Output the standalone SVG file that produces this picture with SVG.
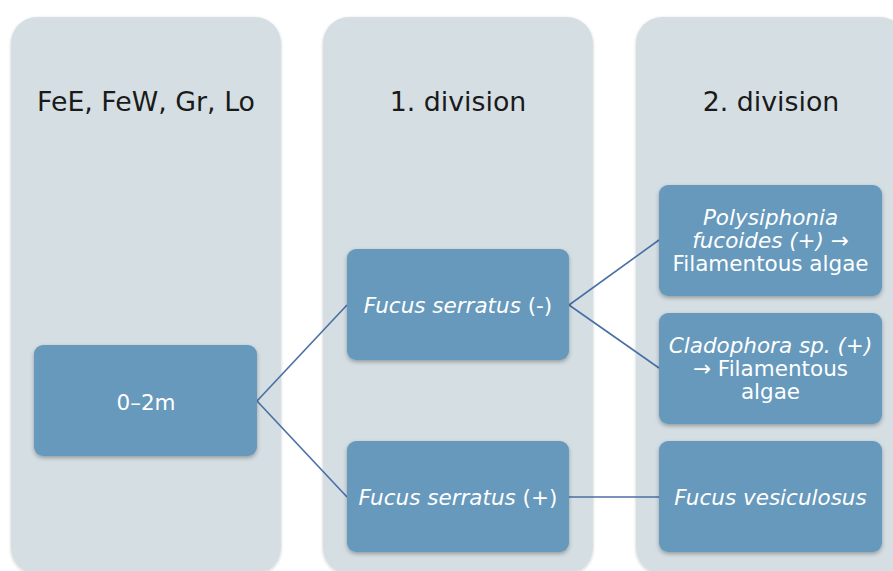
<svg xmlns="http://www.w3.org/2000/svg" width="893" height="571" viewBox="0 0 893 571">
<defs>
<style>
.col{fill:#d5dfe3;}
.node{fill:#6699bc;}
.hdr{font-family:"DejaVu Sans",Verdana,sans-serif;font-size:26.8px;fill:#1a1a1a;text-anchor:middle;}
.lbl{font-family:"DejaVu Sans",Verdana,sans-serif;font-size:21.5px;fill:#ffffff;text-anchor:middle;}
.it{font-style:italic;}
.conn{stroke:#4a6fa5;stroke-width:1.6;fill:none;}
</style>
<filter id="sh" x="-10%" y="-10%" width="120%" height="130%">
<feDropShadow dx="0" dy="2" stdDeviation="2" flood-color="#000" flood-opacity="0.3"/>
</filter>
<filter id="shc" x="-10%" y="-10%" width="120%" height="120%">
<feDropShadow dx="0" dy="1" stdDeviation="1.5" flood-color="#000" flood-opacity="0.2"/>
</filter>
</defs>
<rect width="893" height="571" fill="#ffffff"/>
<g id="col1"><rect class="col" x="11" y="17" width="270" height="557" rx="26" filter="url(#shc)"/><text class="hdr" x="146" y="111">FeE, FeW, Gr, Lo</text></g>
<g id="col2"><rect class="col" x="323" y="17" width="270" height="557" rx="26" filter="url(#shc)"/><text class="hdr" x="458" y="111">1. division</text></g>
<g id="col3"><rect class="col" x="636" y="17" width="270" height="557" rx="26" filter="url(#shc)"/><text class="hdr" x="771" y="111">2. division</text></g>
<g id="connectors">
<line class="conn" x1="257" y1="401" x2="347" y2="305"/>
<line class="conn" x1="257" y1="401" x2="347" y2="497"/>
<line class="conn" x1="569" y1="305" x2="659" y2="240"/>
<line class="conn" x1="569" y1="305" x2="659" y2="368"/>
<line class="conn" x1="569" y1="497" x2="659" y2="497"/>
</g>
<g id="n0"><rect class="node" x="34" y="345" width="223" height="111" rx="9" filter="url(#sh)"/><text class="lbl" x="146" y="409.5">0–2m</text></g>
<g id="n1"><rect class="node" x="347" y="249" width="222" height="111" rx="9" filter="url(#sh)"/><text class="lbl" x="458" y="313"><tspan class="it">Fucus serratus</tspan> (-)</text></g>
<g id="n2"><rect class="node" x="347" y="441" width="222" height="111" rx="9" filter="url(#sh)"/><text class="lbl" x="458" y="505"><tspan class="it">Fucus serratus</tspan> (+)</text></g>
<g id="n3"><rect class="node" x="659" y="185" width="223" height="111" rx="9" filter="url(#sh)"/><text class="lbl"><tspan class="it" x="770.5" y="225">Polysiphonia</tspan><tspan class="it" x="770.5" y="248">fucoides (+) →</tspan><tspan x="770.5" y="271">Filamentous algae</tspan></text></g>
<g id="n4"><rect class="node" x="659" y="313" width="223" height="111" rx="9" filter="url(#sh)"/><text class="lbl"><tspan class="it" x="770.5" y="353">Cladophora sp. (+)</tspan><tspan x="770.5" y="376">→ Filamentous</tspan><tspan x="770.5" y="399">algae</tspan></text></g>
<g id="n5"><rect class="node" x="659" y="441" width="223" height="111" rx="9" filter="url(#sh)"/><text class="lbl it" x="770.5" y="505">Fucus vesiculosus</text></g>
</svg>
